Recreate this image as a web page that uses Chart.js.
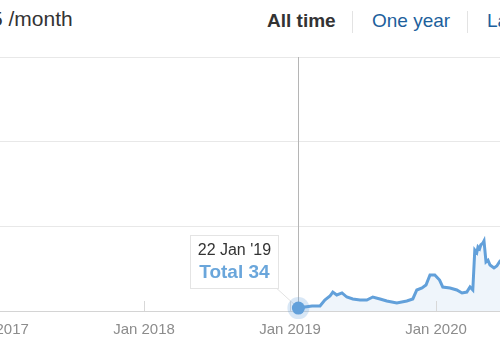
<!DOCTYPE html>
<html>
<head>
<meta charset="utf-8">
<script src="https://cdn.jsdelivr.net/npm/chart.js@4"></script>
<style>
  html, body { margin: 0; padding: 0; background: #fff; overflow: hidden; }
  body { width: 500px; height: 350px; position: relative; font-family: "Liberation Sans", Arial, sans-serif; }
  .head { position: absolute; top: 7px; font-size: 21px; color: #333; white-space: nowrap; }
  .sep { position: absolute; top: 11px; width: 1px; height: 22px; background: #e3e3e3; }
  .wrap { position: absolute; left: -60px; top: 40px; width: 620px; height: 310px; }
</style>
</head>
<body>
<div class="head" style="left:-9px">5 /month</div>
<div class="head" style="left:267px;font-weight:bold;font-size:19px;top:10px">All time</div>
<div class="sep" style="left:352px"></div>
<div class="head" style="left:372px;color:#1d5f9c;font-size:19px;top:10px">One year</div>
<div class="sep" style="left:467px"></div>
<div class="head" style="left:487px;color:#1d5f9c;font-size:19px;top:10px">Last 30 days</div>
<div class="wrap"><canvas id="c"></canvas></div>
<script>
// Daily totals
const dates = [
  '2019-01-22', '2019-02-07', '2019-02-25', '2019-03-17', '2019-03-29', '2019-04-11',
  '2019-04-18', '2019-04-28', '2019-05-11', '2019-05-23', '2019-06-07', '2019-06-25',
  '2019-07-12', '2019-07-27', '2019-08-14', '2019-08-31', '2019-09-25', '2019-10-20',
  '2019-11-04', '2019-11-14', '2019-11-27', '2019-12-07', '2019-12-17', '2019-12-29',
  '2020-01-10', '2020-01-18', '2020-02-05', '2020-02-22', '2020-03-06', '2020-03-18',
  '2020-03-26', '2020-04-02', '2020-04-07', '2020-04-12', '2020-04-15', '2020-04-19',
  '2020-04-22', '2020-04-27', '2020-04-30', '2020-05-05', '2020-05-10', '2020-05-15',
  '2020-05-25', '2020-06-01', '2020-06-09', '2020-06-20'
];
const totals = [
  34, 47, 59, 59, 130, 177,
  224, 189, 213, 165, 142, 130,
  130, 165, 142, 118, 95, 118,
  142, 248, 272, 307, 425, 425,
  366, 283, 272, 248, 213, 224,
  283, 248, 720, 690, 756, 735,
  780, 800, 827, 579, 600, 543,
  508, 531, 590, 626
];
const yearTicks = [2017, 2018, 2019, 2020];
const yMax = 3000;
const yStep = 1000;
const hoverIndex = 0;

const BASE = Date.UTC(2017, 0, 1);
const dayOf = s => (Date.parse(s + 'T00:00:00Z') - BASE) / 86400000;
const dayOfYear = y => (Date.UTC(y, 0, 1) - BASE) / 86400000;
const MONTHS = ['Jan','Feb','Mar','Apr','May','Jun','Jul','Aug','Sep','Oct','Nov','Dec'];

const LINE = '#62a0da';

// hover decorations: year tick marks, crosshair, point halo and tooltip box
const hoverPlugin = {
  id: 'hover',
  afterDatasetsDraw(chart) {
    const ctx = chart.ctx;
    const area = chart.chartArea;
    const xs = chart.scales.x;
    ctx.save();
    // small tick marks inside the plot above the axis
    ctx.strokeStyle = '#d8d8d8';
    ctx.lineWidth = 1;
    yearTicks.forEach(y => {
      const px = Math.round(xs.getPixelForValue(dayOfYear(y))) + 0.5;
      ctx.beginPath();
      ctx.moveTo(px, area.bottom - 10);
      ctx.lineTo(px, area.bottom);
      ctx.stroke();
    });
    const pt = chart.getDatasetMeta(0).data[hoverIndex];
    const px = Math.round(pt.x) + 0.5;
    // crosshair
    ctx.strokeStyle = '#b5b5b5';
    ctx.beginPath();
    ctx.moveTo(px, area.top);
    ctx.lineTo(px, area.bottom);
    ctx.stroke();
    // tooltip box
    const bw = 88, bh = 53;
    const bx = pt.x - 20 - bw, by = pt.y - 20 - bh;
    ctx.strokeStyle = '#e2e2e2';
    ctx.beginPath();
    ctx.moveTo(bx + bw - 2, by + bh);
    ctx.lineTo(pt.x, pt.y);
    ctx.stroke();
    ctx.fillStyle = '#fff';
    ctx.fillRect(bx, by, bw, bh);
    ctx.strokeStyle = '#e4e4e4';
    ctx.strokeRect(Math.round(bx) + 0.5, Math.round(by) + 0.5, bw, bh);
    const d = new Date(dates[hoverIndex] + 'T00:00:00Z');
    const title = d.getUTCDate() + ' ' + MONTHS[d.getUTCMonth()] + " '" + String(d.getUTCFullYear()).slice(2);
    ctx.textAlign = 'center';
    ctx.textBaseline = 'alphabetic';
    ctx.fillStyle = '#333';
    ctx.font = '16px "Liberation Sans", Arial, sans-serif';
    ctx.fillText(title, bx + bw / 2, by + 20);
    ctx.fillStyle = '#6aa6db';
    ctx.font = 'bold 19px "Liberation Sans", Arial, sans-serif';
    ctx.fillText('Total ' + totals[hoverIndex], bx + bw / 2, by + 43);
    // point with halo
    ctx.fillStyle = 'rgba(98,160,218,0.25)';
    ctx.beginPath();
    ctx.arc(pt.x, pt.y, 11, 0, Math.PI * 2);
    ctx.fill();
    ctx.fillStyle = LINE;
    ctx.beginPath();
    ctx.arc(pt.x, pt.y, 6.5, 0, Math.PI * 2);
    ctx.fill();
    ctx.restore();
  }
};

new Chart(document.getElementById('c'), {
  type: 'line',
  data: {
    datasets: [{
      data: dates.map((s, i) => ({ x: dayOf(s), y: totals[i] })),
      borderColor: LINE,
      borderWidth: 3,
      backgroundColor: 'rgba(98,160,218,0.10)',
      fill: 'origin',
      tension: 0,
      pointRadius: 0
    }]
  },
  options: {
    responsive: true,
    maintainAspectRatio: false,
    animation: false,
    events: [],
    layout: { padding: { top: 17, left: 0, right: 0, bottom: 0 } },
    plugins: { legend: { display: false }, tooltip: { enabled: false } },
    scales: {
      x: {
        type: 'linear',
        min: dayOfYear(2019) - 875,
        max: dayOfYear(2019) + 675,
        afterBuildTicks: s => { s.ticks = yearTicks.map(y => ({ value: dayOfYear(y) })); },
        afterFit: s => { s.height = 39; s.paddingLeft = 0; s.paddingRight = 0; },
        grid: { display: false },
        border: { display: false },
        ticks: {
          padding: 2,
          color: '#8c8c8c',
          font: { family: '"Liberation Sans", Arial, sans-serif', size: 15 },
          maxRotation: 0,
          autoSkip: false,
          callback: v => 'Jan ' + (2017 + Math.round(v / 365.25))
        }
      },
      y: {
        min: 0,
        max: yMax,
        afterFit: s => { s.width = 0; },
        ticks: { display: false, stepSize: yStep },
        border: { display: false },
        grid: {
          drawTicks: false,
          color: c => c.tick.value === 0 ? '#d4d4d4' : '#e8e8e8'
        }
      }
    }
  },
  plugins: [hoverPlugin]
});
</script>
</body>
</html>
